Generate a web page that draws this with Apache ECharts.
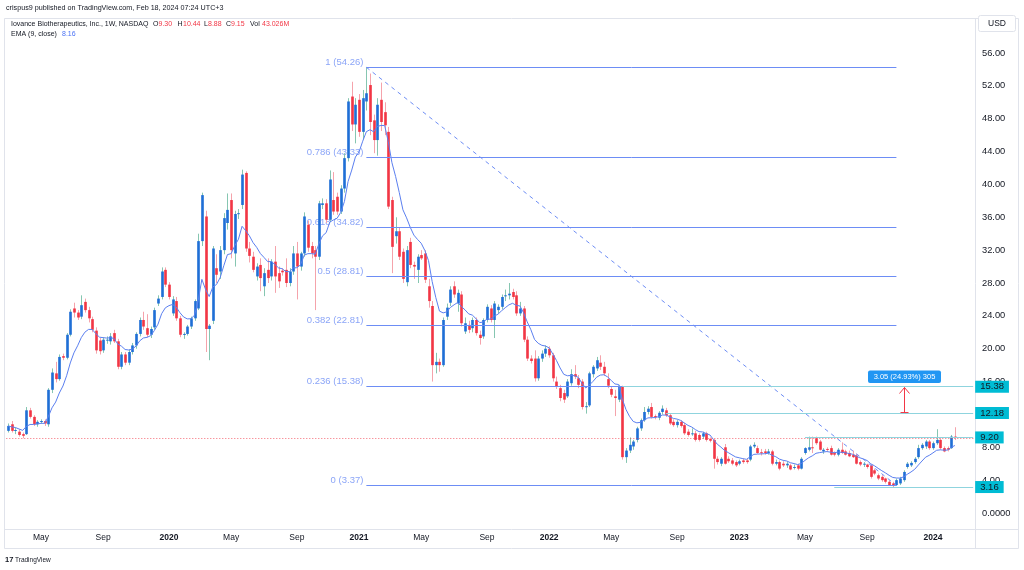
<!DOCTYPE html>
<html>
<head>
<meta charset="utf-8">
<script src="https://cdn.jsdelivr.net/npm/echarts@6/dist/echarts.min.js"></script>
<style>html,body{margin:0;padding:0;background:#fff}#c{width:1024px;height:570px}</style>
</head>
<body>
<div id="c"></div>
<script>
// ---- data (weekly candles, first week 2019-02-25) ----
const openP = [
10.0,10.8,10.0,9.9,9.6,9.6,12.5,11.7,10.8,11.1,
11.2,10.8,15.0,17.0,16.3,19.1,18.9,21.7,24.9,24.4,
23.9,25.7,24.7,23.6,22.2,21.0,19.8,21.0,20.9,21.9,
20.9,17.8,19.3,18.3,19.6,20.4,21.8,23.5,22.5,21.7,
22.6,25.5,26.3,29.6,27.8,24.3,25.8,23.7,21.7,21.8,
22.7,23.7,24.9,33.1,36.1,22.4,23.4,29.8,29.4,32.0,
35.3,38.1,31.6,36.4,37.5,41.4,32.2,31.2,28.8,30.2,
27.6,29.6,28.8,30.6,29.2,29.5,29.6,28.0,29.4,31.6,
30.0,31.6,35.1,32.5,32.0,31.2,37.5,37.7,35.7,38.1,
38.5,36.7,39.5,43.2,50.7,47.3,50.3,46.4,50.1,52.1,
47.8,45.4,50.3,48.8,46.4,38.1,33.7,34.3,31.8,28.1,
33.0,30.2,29.6,31.4,31.6,27.6,25.2,18.0,18.4,18.0,
23.9,25.6,27.6,25.5,26.6,22.1,22.9,22.5,23.5,21.7,
21.5,23.5,24.9,23.5,24.7,25.1,26.4,26.5,26.9,26.5,
24.3,24.9,21.1,18.8,18.8,16.4,18.8,19.4,20.0,19.2,
16.0,15.2,14.6,14.2,15.8,16.9,16.4,16.0,12.9,13.1,
16.9,17.6,18.3,17.8,16.3,15.1,14.2,13.8,15.4,6.8,
7.6,8.1,8.9,10.3,11.3,12.3,12.9,11.8,11.6,12.3,
12.5,11.9,11.1,10.7,11.1,10.7,9.9,9.6,9.7,9.5,
9.3,9.7,9.0,8.9,6.6,6.0,8.0,6.6,6.4,6.2,
6.0,6.4,6.4,6.5,8.1,7.9,7.4,7.5,7.3,7.5,
6.0,6.2,6.0,5.8,5.8,5.6,5.8,5.4,7.3,7.7,
8.0,9.1,8.7,7.5,7.8,7.9,7.3,7.1,7.7,7.5,
7.3,7.1,7.0,6.2,5.9,5.9,5.8,5.2,4.6,4.4,
4.2,3.8,3.6,3.4,3.6,4.0,5.6,5.8,6.2,6.8,
7.9,8.1,8.7,7.9,8.5,8.9,7.9,7.9,7.9,9.30];
const highP = [
10.9,11.2,10.4,10.2,9.8,12.9,12.8,11.9,11.3,11.4,
11.4,15.2,17.6,18.4,19.3,19.4,21.9,24.8,25.6,24.7,
26.5,26.1,25.1,23.9,22.6,21.3,21.4,21.5,21.9,22.3,
21.2,19.6,19.6,19.9,20.7,22.0,23.8,24.5,24.2,22.7,
25.0,26.5,29.9,29.9,28.1,26.4,26.3,24.0,22.0,22.9,
23.9,26.0,34.0,39.0,36.8,23.0,32.5,31.5,32.5,36.5,
38.9,38.9,36.8,37.0,41.8,41.6,33.0,31.8,30.4,31.0,
29.8,31.0,30.9,32.5,30.0,29.8,31.0,29.8,32.5,33.0,
31.8,36.6,35.6,33.0,32.5,38.0,38.3,38.2,41.7,41.5,
39.0,39.9,43.8,50.5,52.5,50.5,51.0,51.5,54.26,53.5,
48.5,50.5,52.4,50.0,47.0,38.5,36.0,34.8,32.2,32.5,
33.5,30.6,31.5,32.0,32.0,28.5,25.8,19.5,18.8,23.8,
25.5,27.6,28.2,27.2,27.0,23.8,23.4,23.8,23.8,22.2,
23.7,25.4,25.3,25.8,25.4,26.6,27.2,28.0,27.3,27.0,
25.7,25.2,21.5,19.2,19.8,19.1,19.8,20.4,20.3,19.5,
16.6,15.6,15.0,16.3,17.5,18.0,16.8,16.3,13.5,17.2,
18.0,19.0,19.2,18.4,17.0,15.4,15.0,15.6,15.5,7.9,
9.2,8.9,10.5,11.5,12.9,13.0,13.4,12.0,12.4,13.1,
12.8,12.1,11.4,11.3,11.3,11.0,10.2,10.3,10.0,9.7,
9.9,9.9,9.2,9.0,6.9,6.8,8.4,6.9,6.7,6.4,
6.5,6.6,6.6,8.3,8.6,8.2,7.8,7.8,7.8,7.7,
6.5,6.4,6.3,6.2,6.0,5.9,6.0,6.8,8.0,9.3,
9.3,9.3,8.9,7.9,8.0,8.2,7.5,7.9,8.6,7.7,
7.6,7.6,7.2,6.4,6.2,6.0,5.9,5.4,4.8,4.6,
4.3,4.0,3.8,4.2,4.4,5.2,6.2,6.3,6.8,8.3,
8.5,8.9,8.9,8.7,10.2,9.1,8.1,8.1,9.5,10.44];
const lowP = [
9.8,9.8,9.6,9.3,9.1,9.5,11.5,10.6,10.5,10.9,
10.6,10.5,14.6,15.9,16.1,18.6,18.7,21.5,23.8,23.5,
23.6,24.4,23.2,22.0,19.4,19.3,19.5,20.6,20.5,20.7,
17.5,17.5,18.0,18.0,19.3,20.0,21.5,22.3,21.4,21.3,
22.3,25.2,26.0,27.5,26.0,24.0,23.4,21.4,21.2,21.6,
22.4,23.4,24.7,32.5,19.6,18.6,23.0,28.0,28.5,31.5,
34.5,31.0,30.0,35.8,37.0,31.8,30.5,29.3,28.3,27.0,
26.4,28.0,28.3,26.8,27.4,28.9,27.5,27.6,29.0,26.0,
29.5,31.2,31.8,31.0,24.7,30.8,37.0,35.3,35.4,36.3,
36.3,36.4,39.0,42.8,46.5,45.0,45.8,45.5,49.0,46.0,
43.8,43.5,46.5,46.0,37.0,29.2,32.8,30.8,28.0,27.6,
29.8,28.5,28.0,30.8,28.0,25.0,16.0,17.0,17.2,17.8,
23.5,25.2,26.2,24.5,22.7,21.8,21.9,22.0,21.6,20.5,
21.2,23.2,23.2,21.3,24.3,24.8,25.8,26.0,26.0,24.0,
24.0,20.8,18.5,18.2,16.0,16.1,18.4,19.0,18.9,16.0,
15.1,13.6,13.4,14.0,15.5,16.3,15.2,12.6,12.1,12.9,
16.5,17.3,17.4,16.7,15.2,14.1,11.8,13.5,6.5,6.1,
7.3,7.7,8.6,10.0,11.1,12.0,11.5,11.4,11.3,12.0,
11.7,10.7,10.5,10.4,10.4,9.5,9.3,9.4,8.7,8.7,
9.0,8.7,8.6,5.4,5.9,5.7,5.9,6.1,5.8,5.6,
5.8,6.0,6.0,6.3,7.9,7.2,7.0,7.1,7.1,5.8,
5.8,5.2,5.6,5.5,5.2,5.3,5.2,5.3,7.1,7.5,
7.3,8.3,7.6,7.2,7.5,7.0,6.9,6.9,7.2,7.0,
6.8,6.7,5.9,5.7,5.6,5.4,4.2,4.6,4.0,3.8,
3.6,3.3,3.16,3.3,3.4,3.8,5.4,5.6,6.0,6.6,
7.7,7.8,7.7,7.7,8.3,7.7,7.4,7.5,7.8,8.88];
const closeP = [
10.6,10.0,10.1,9.5,9.4,12.5,11.7,10.8,11.1,11.2,
10.9,15.0,17.1,16.3,19.0,18.9,21.7,24.5,24.4,23.8,
25.3,24.7,23.7,22.3,19.8,19.7,21.1,21.1,21.5,20.9,
17.8,19.3,18.3,19.6,20.4,21.8,23.5,22.7,21.7,22.4,
24.7,26.1,29.4,27.8,26.3,26.0,23.7,21.7,21.8,22.7,
23.7,25.8,33.1,38.7,22.4,22.8,32.2,29.0,32.0,35.9,
36.9,32.0,36.4,36.5,41.2,32.2,31.3,29.6,30.0,28.6,
29.2,28.6,30.6,28.8,28.2,29.3,28.0,29.4,31.6,30.0,
31.6,36.1,32.3,31.6,31.2,37.7,37.7,35.7,40.6,36.7,
36.7,39.5,43.2,50.1,47.3,49.7,46.4,50.5,51.1,47.6,
45.4,49.7,47.6,47.2,37.3,32.4,34.3,31.2,28.5,32.0,
30.2,30.0,31.2,31.0,28.4,25.8,18.0,18.4,18.0,23.5,
25.0,27.2,26.6,26.8,23.1,23.1,22.3,23.5,21.9,21.3,
23.5,25.1,23.5,25.5,25.1,26.3,26.5,26.7,26.3,24.3,
24.9,21.1,18.8,18.5,16.4,18.8,19.4,20.0,19.2,16.4,
15.4,14.0,13.8,16.0,16.9,16.6,15.6,12.9,13.0,17.0,
17.8,18.6,17.8,17.0,15.5,14.4,14.0,15.4,6.8,7.6,
8.3,8.7,10.3,11.3,12.3,12.7,11.7,11.7,12.2,12.7,
11.9,10.9,10.7,11.1,10.6,9.7,9.5,9.7,8.9,8.9,
9.7,8.9,8.8,6.6,6.2,6.6,6.0,6.3,6.0,5.8,
6.3,6.2,6.2,8.1,8.3,7.3,7.3,7.3,7.5,6.0,
6.2,5.4,5.8,6.0,5.3,5.6,5.4,6.6,7.9,8.0,
7.9,8.5,7.7,7.7,7.7,7.1,7.1,7.7,7.3,7.1,
6.9,6.8,6.0,5.9,6.0,5.6,4.4,4.8,4.2,4.0,
3.8,3.4,3.3,4.0,4.2,5.0,6.0,6.1,6.6,7.9,
8.3,8.7,7.9,8.5,8.9,7.9,7.5,7.7,9.3,9.15];

const tickDates  = ['2019-04-29','2019-08-26','2019-12-30','2020-04-27','2020-08-31','2020-12-28','2021-04-26','2021-08-30','2021-12-27','2022-04-25','2022-08-29','2022-12-26','2023-05-01','2023-08-28','2024-01-01'];
const tickLabels = ['May','Sep','2020','May','Sep','2021','May','Sep','2022','May','Sep','2023','May','Sep','2024'];

const fibRatios = ['1','0.786','0.618','0.5','0.382','0.236','0'];
const fibLevels = [54.26, 43.33, 34.82, 28.81, 22.81, 15.38, 3.37];
const fibFrom = '2021-01-11', fibTo = '2023-10-23';

const hLevels = [15.38, 12.18, 9.20, 3.16];
const hFrom   = ['2022-05-16','2022-08-08','2023-05-01','2023-06-26'];
const lastPrice = 9.15;
const emaLastText = '8.16';
const measureFrom = 12.23, measureTo = 15.28, measureDate = '2023-11-06';
const measureText = '3.05 (24.93%) 305';

// ---- categories (weekly) ----
const cats = [];
const t0 = Date.UTC(2019, 1, 25);
for (let k = 0; k < 265; k++) cats.push(new Date(t0 + k * 7 * 864e5).toISOString().slice(0, 10));
const labelMap = new Map(tickDates.map((d, i) => [d, tickLabels[i]]));

// EMA(9, close) indicator
const ema = [];
closeP.forEach((c, i) => { ema.push(i === 0 ? c : +(c * 0.2 + ema[i - 1] * 0.8).toFixed(3)); });

const FONT = 'Liberation Sans, Arial, sans-serif';
const UP = '#1f6fd6', DN = '#f23645', UPW = '#86c6b1', DNW = '#f5a3ab';
const FIB = '#6d8df5', TEAL = '#8fd4de', CYAN = '#00bcd4';

const candleData = openP.map((o, i) => [i, o, closeP[i], lowP[i], highP[i]]);

function renderCandle(params, api) {
  const i = api.value(0), o = api.value(1), c = api.value(2), l = api.value(3), h = api.value(4);
  const pO = api.coord([i, o]), pC = api.coord([i, c]), pL = api.coord([i, l]), pH = api.coord([i, h]);
  const up = c >= o;
  const bw = api.size([1, 0])[0] * 0.72;
  const x = Math.round(pO[0]) + 0.5;
  const top = Math.min(pO[1], pC[1]), bot = Math.max(pO[1], pC[1]);
  return { type: 'group', children: [
    { type: 'line', shape: { x1: x, y1: pH[1], x2: x, y2: pL[1] }, style: { stroke: up ? UPW : DNW, lineWidth: 1 } },
    { type: 'rect', shape: { x: x - bw / 2, y: top, width: bw, height: Math.max(bot - top, 1) }, style: { fill: up ? UP : DN } }
  ]};
}

function renderMeasure(params, api) {
  const pA = api.coord([api.value(0), api.value(1)]);
  const pB = api.coord([api.value(0), api.value(2)]);
  const x = Math.round(pA[0]) + 0.5;
  return { type: 'group', children: [
    { type: 'line', shape: { x1: x, y1: pA[1], x2: x, y2: pB[1] }, style: { stroke: DN, lineWidth: 1 } },
    { type: 'polyline', shape: { points: [[x - 5, pB[1] + 6], [x, pB[1]], [x + 5, pB[1] + 6]] }, style: { stroke: DN, fill: null, lineWidth: 1 } },
    { type: 'line', shape: { x1: x - 4, y1: pA[1], x2: x + 4, y2: pA[1] }, style: { stroke: DN, lineWidth: 1 } },
    { type: 'rect', shape: { x: x - 36.5, y: pB[1] - 17, width: 73, height: 12.5, r: 2 }, style: { fill: '#2196f3' } },
    { type: 'text', x: x, y: pB[1] - 10.7, style: { text: measureText, fill: '#fff', font: '7.5px ' + FONT, textAlign: 'center', textVerticalAlign: 'middle' } }
  ]};
}

const markData = [];
fibLevels.forEach(v => markData.push([{ coord: [fibFrom, v], lineStyle: { color: FIB, width: 1, type: 'solid' } }, { coord: [fibTo, v] }]));
markData.push([{ coord: [fibFrom, fibLevels[0]], lineStyle: { color: FIB, width: 1, type: [4, 4] } }, { coord: [fibTo, fibLevels[6]] }]);
hLevels.forEach((v, k) => markData.push([
  { coord: [hFrom[k], v], lineStyle: { color: TEAL, width: 1, type: 'solid' },
    label: { show: true, position: 'end', distance: 2, formatter: v.toFixed(2), backgroundColor: CYAN, color: '#131722',
             fontFamily: FONT, fontSize: 9.5, padding: [1, 5, 1, 5] } },
  { coord: [cats[264], v] }]));
markData.push({ yAxis: lastPrice, lineStyle: { color: DN, width: 1, type: [1, 2], opacity: 0.75 }, label: { show: false } });

const chart = echarts.init(document.getElementById('c'), null, { renderer: 'canvas' });
chart.setOption({
  animation: false,
  backgroundColor: '#fff',
  grid: { left: 6.3, right: 49, top: 53, bottom: 57 },
  xAxis: {
    type: 'category', data: cats, boundaryGap: true,
    axisLine: { show: false }, axisTick: { show: false }, splitLine: { show: false },
    axisLabel: {
      interval: (idx, val) => labelMap.has(val),
      margin: 20, color: '#131722', fontSize: 8.5, fontFamily: FONT,
      formatter: (val) => { const t = labelMap.get(val) || ''; return /^\d{4}$/.test(t) ? '{b|' + t + '}' : t; },
      rich: { b: { fontWeight: 'bold', fontSize: 8.5, fontFamily: FONT, color: '#131722' } }
    }
  },
  yAxis: {
    type: 'value', position: 'right', min: 0, max: 56, interval: 4, scale: false,
    splitLine: { show: false }, axisLine: { show: false }, axisTick: { show: false },
    axisLabel: { margin: 7, color: '#131722', fontSize: 9.3, fontFamily: FONT,
      formatter: v => v === 0 ? '0.0000' : v.toFixed(2) }
  },
  series: [
    {
      name: 'drawings', type: 'scatter', z: 1, silent: true, symbolSize: 0,
      data: fibLevels.map(v => [fibFrom, v]),
      label: { show: true, position: 'left', distance: 3, offset: [0, -5], color: FIB, fontSize: 9.5, fontFamily: FONT,
        formatter: p => fibRatios[p.dataIndex] + ' (' + fibLevels[p.dataIndex].toFixed(2) + ')' },
      markLine: { silent: true, symbol: ['none', 'none'], label: { show: false }, animation: false, data: markData }
    },
    {
      name: 'candles', type: 'custom', z: 3, silent: true, renderItem: renderCandle,
      encode: { x: 0, y: [1, 2, 3, 4] }, data: candleData
    },
    {
      name: 'EMA', type: 'line', z: 4, silent: true, showSymbol: false, symbol: 'none',
      data: ema, lineStyle: { color: '#5b7ff0', width: 1 }
    },
    {
      name: 'measure', type: 'custom', z: 5, silent: true, renderItem: renderMeasure,
      encode: { x: 0, y: [1, 2] }, data: [[measureDate, measureFrom, measureTo]]
    }
  ],
  graphic: [
    { type: 'rect', silent: true, z: -10, shape: { x: 4.5, y: 18.5, width: 1014, height: 530 }, style: { fill: 'none', stroke: '#e0e3eb', lineWidth: 1 } },
    { type: 'line', silent: true, shape: { x1: 4.5, y1: 529.5, x2: 1018.5, y2: 529.5 }, style: { stroke: '#e0e3eb', lineWidth: 1 } },
    { type: 'line', silent: true, shape: { x1: 975.5, y1: 18.5, x2: 975.5, y2: 548.5 }, style: { stroke: '#e0e3eb', lineWidth: 1 } },
    { type: 'rect', silent: true, shape: { x: 978.5, y: 15.5, width: 37, height: 16, r: 2 }, style: { fill: '#fff', stroke: '#e0e3eb', lineWidth: 1 } },
    { type: 'text', silent: true, x: 997, y: 24, style: { text: 'USD', font: '8.5px ' + FONT, fill: '#131722', textAlign: 'center', textVerticalAlign: 'middle' } },
    { type: 'text', silent: true, x: 6, y: 8.5, style: { text: 'crispus9 published on TradingView.com, Feb 18, 2024 07:24 UTC+3', font: '7.2px ' + FONT, fill: '#131722', textVerticalAlign: 'middle' } },
    { type: 'text', silent: true, x: 11, y: 24.5, style: { text: 'Iovance Biotherapeutics, Inc., 1W, NASDAQ', font: '7px ' + FONT, fill: '#131722', textVerticalAlign: 'middle' } },
    { type: 'text', silent: true, x: 153, y: 24.5, style: { text: 'O', font: '7px ' + FONT, fill: '#131722', textVerticalAlign: 'middle' } },
    { type: 'text', silent: true, x: 158.5, y: 24.5, style: { text: openP[openP.length - 1].toFixed(2), font: '7px ' + FONT, fill: DN, textVerticalAlign: 'middle' } },
    { type: 'text', silent: true, x: 177.5, y: 24.5, style: { text: 'H', font: '7px ' + FONT, fill: '#131722', textVerticalAlign: 'middle' } },
    { type: 'text', silent: true, x: 183, y: 24.5, style: { text: highP[highP.length - 1].toFixed(2), font: '7px ' + FONT, fill: DN, textVerticalAlign: 'middle' } },
    { type: 'text', silent: true, x: 204, y: 24.5, style: { text: 'L', font: '7px ' + FONT, fill: '#131722', textVerticalAlign: 'middle' } },
    { type: 'text', silent: true, x: 208, y: 24.5, style: { text: lowP[lowP.length - 1].toFixed(2), font: '7px ' + FONT, fill: DN, textVerticalAlign: 'middle' } },
    { type: 'text', silent: true, x: 226, y: 24.5, style: { text: 'C', font: '7px ' + FONT, fill: '#131722', textVerticalAlign: 'middle' } },
    { type: 'text', silent: true, x: 231, y: 24.5, style: { text: closeP[closeP.length - 1].toFixed(2), font: '7px ' + FONT, fill: DN, textVerticalAlign: 'middle' } },
    { type: 'text', silent: true, x: 250, y: 24.5, style: { text: 'Vol', font: '7px ' + FONT, fill: '#131722', textVerticalAlign: 'middle' } },
    { type: 'text', silent: true, x: 262, y: 24.5, style: { text: '43.026M', font: '7px ' + FONT, fill: DN, textVerticalAlign: 'middle' } },
    { type: 'text', silent: true, x: 11, y: 34.5, style: { text: 'EMA (9, close)', font: '7px ' + FONT, fill: '#131722', textVerticalAlign: 'middle' } },
    { type: 'text', silent: true, x: 62, y: 34.5, style: { text: emaLastText, font: '7px ' + FONT, fill: '#4a72f5', textVerticalAlign: 'middle' } },
    { type: 'text', silent: true, x: 5, y: 560, style: { text: '17', font: 'bold 7.5px ' + FONT, fill: '#131722', textVerticalAlign: 'middle' } },
    { type: 'text', silent: true, x: 15, y: 560, style: { text: 'TradingView', font: '6.5px ' + FONT, fill: '#131722', textVerticalAlign: 'middle' } }
  ]
});
</script>
</body>
</html>
